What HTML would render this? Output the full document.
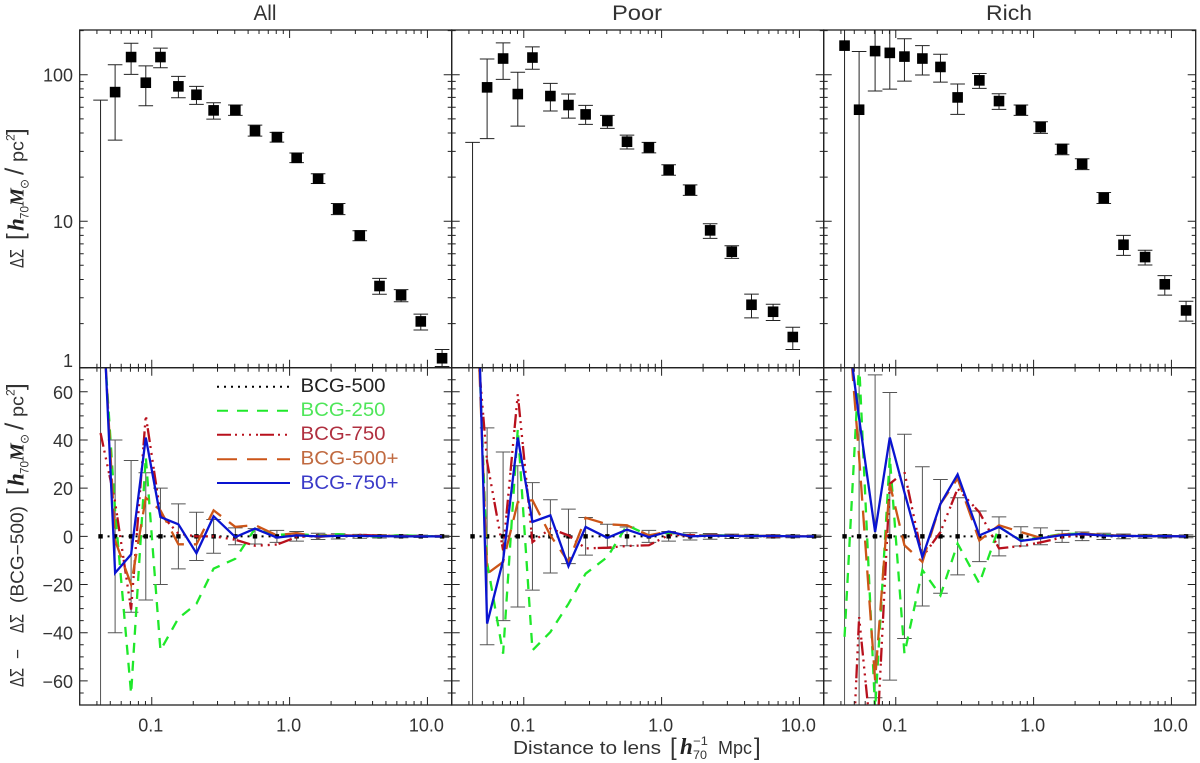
<!DOCTYPE html>
<html>
<head>
<meta charset="utf-8">
<title>Lensing profiles</title>
<style>
html,body{margin:0;padding:0;background:#fff;width:1200px;height:763px;overflow:hidden;}
svg{display:block;}
text{font-family:"Liberation Sans",sans-serif;fill:#333;}
.s{font-family:"Liberation Serif",serif;font-style:italic;font-weight:bold;fill:#222;}
</style>
</head>
<body>
<svg id="chart" xmlns="http://www.w3.org/2000/svg" width="1200" height="763" viewBox="0 0 1200 763">
  <defs id="defs"></defs>
  <g id="marks"></g>
  <g id="axes"></g>

  <text x="253.5" y="20" font-size="21" textLength="23">All</text>
  <text x="612" y="20" font-size="21" textLength="50">Poor</text>
  <text x="986" y="20" font-size="21" textLength="46">Rich</text>

  <g>
    <line x1="217" x2="290" y1="386.7" y2="386.7" stroke="#000" stroke-width="2" stroke-dasharray="2 5"/>
    <text x="300.5" y="392" font-size="19" textLength="85" style="fill:#222">BCG-500</text>
    <line x1="217" x2="290" y1="410.7" y2="410.7" stroke="#1fe82a" stroke-width="2" stroke-dasharray="11 9"/>
    <text x="300.5" y="416" font-size="19" textLength="85" style="fill:#4fe65a">BCG-250</text>
    <line x1="217" x2="290" y1="434.7" y2="434.7" stroke="#b8101c" stroke-width="2" stroke-dasharray="14 4 2 5 2 5 2 5 2 2"/>
    <text x="300.5" y="440" font-size="19" textLength="85" style="fill:#b03040">BCG-750</text>
    <line x1="217" x2="290" y1="459.3" y2="459.3" stroke="#cc5518" stroke-width="2" stroke-dasharray="20 10"/>
    <text x="300.5" y="464.5" font-size="19" textLength="98" style="fill:#c06a40">BCG-500+</text>
    <line x1="217" x2="290" y1="483" y2="483" stroke="#0a14d0" stroke-width="2"/>
    <text x="300.5" y="489" font-size="19" textLength="98" style="fill:#3a3ac8">BCG-750+</text>
  </g>

  <g>
    <text x="513" y="754" font-size="18" textLength="148">Distance to lens</text>
    <text x="670" y="755" font-size="24">[</text>
    <text class="s" x="680" y="754" font-size="23">h</text>
    <text x="693" y="745" font-size="12" textLength="15">−1</text>
    <text x="693" y="759" font-size="12" textLength="14">70</text>
    <text x="718" y="754" font-size="18" textLength="34">Mpc</text>
    <text x="754" y="755" font-size="24">]</text>
  </g>

  <g transform="translate(23.5,268) rotate(-90)">
    <text x="0" y="0" font-size="19" textLength="19">ΔΣ</text>
    <text x="28" y="0" font-size="24">[</text>
    <text class="s" x="37" y="0" font-size="23">h</text>
    <text x="49" y="5" font-size="12" textLength="13">70</text>
    <text class="s" x="62" y="0" font-size="20">M</text>
    <text x="79" y="5" font-size="12">⊙</text>
    <text x="93" y="0" font-size="26">/</text>
    <text x="106" y="0" font-size="18" textLength="21">pc</text>
    <text x="127" y="-9" font-size="12">2</text>
    <text x="133" y="0" font-size="24">]</text>
  </g>

  <g transform="translate(23.5,687) rotate(-90)">
    <text x="0" y="0" font-size="19" textLength="19">ΔΣ</text>
    <text x="28" y="0" font-size="18" textLength="10">−</text>
    <text x="54" y="0" font-size="19" textLength="19">ΔΣ</text>
    <text x="84" y="0" font-size="18" textLength="97">(BCG−500)</text>
    <text x="192" y="0" font-size="24">[</text>
    <text class="s" x="201" y="0" font-size="23">h</text>
    <text x="213" y="5" font-size="12" textLength="13">70</text>
    <text class="s" x="226" y="0" font-size="20">M</text>
    <text x="243" y="5" font-size="12">⊙</text>
    <text x="257" y="0" font-size="26">/</text>
    <text x="270" y="0" font-size="18" textLength="21">pc</text>
    <text x="291" y="-9" font-size="12">2</text>
    <text x="297" y="0" font-size="24">]</text>
  </g>
</svg>

<script>
// ---------- data ----------
const radii = [0.0425,0.0542,0.0708,0.0905,0.1156,0.156,0.211,0.281,0.404,0.561,0.809,1.125,1.61,2.25,3.23,4.49,6.44,8.95,12.77];
const panelNames = ['all','poor','rich'];

// Upper panels: delta sigma with asymmetric error limits
const allValue = [0.5,76.1,132,88.2,132,83.3,73,57.1,57.4,41.5,37.5,27.1,19.5,12.1,8.0,3.61,3.12,2.07,1.16];
const allUpper = [67.1,117,164,115,152,97.4,83.3,64.4,62.1,45.3,40.4,29.2,21.1,13.2,8.6,4.07,3.41,2.32,1.33];
const allLower = [0.01,35.8,100.5,61.4,111.6,69.7,62.7,49.8,52.8,38.1,34.7,25.1,18.1,11.1,7.36,3.17,2.82,1.81,1.02];

const poorValue = [0.5,82,129,73.8,131,71.5,62.1,53.6,48.3,34.9,31.9,22.4,16.3,8.66,6.19,2.69,2.41,1.62,0.5];
const poorUpper = [34.5,128,165,104,155,87.3,73.8,61.8,52.8,38.7,34.5,24.3,17.7,9.61,6.8,3.18,2.71,1.89,0.6];
const poorLower = [0.01,36.6,93,44.6,109,56.5,50.6,45.8,43,31.1,29.3,20.6,15,7.64,5.58,2.19,2.10,1.33,0.4];

const richValue = [158,57.7,145,141,133,129,113,70,91.5,66.1,57.4,43.9,31.1,24.6,14.4,6.91,5.69,3.71,2.46];
const richUpper = [300,144,300,300,176,158,138,86.4,102,74.2,62.1,47.8,33.6,26.7,15.7,8.0,6.33,4.25,2.84];
const richLower = [0.01,0.01,77.4,79.8,90.5,99.5,89.1,53.6,80.7,58,52.8,39.8,28.4,22.5,13.2,5.84,5.02,3.13,2.08];

// Lower panels: residuals relative to BCG-500
const allError = [72,40,31.5,26.4,20,13.5,10,7,3.5,3.2,2.5,2,1.3,1.1,0.8,0.7,0.6,0.5,0.4];
const allBcg250 = [104,10.5,-65.3,33,-47.3,-34,-28,-13.4,-9.3,3.2,0.6,1.0,0.3,0.9,0.2,-0.1,0.5,0.1,0];
const allBcg750 = [42.9,14.2,-30.4,50.2,9.4,1.1,0,0,-1.4,-3.9,-3.4,-0.3,0.3,0.2,0.6,0.3,0.1,0,0];
const allBcg500p = [111,-1.7,-20,16,10.8,-3.3,-3.3,10.8,3.9,4.7,0.4,1.4,-0.3,0.5,0.3,0.2,0.1,0,0.1];
const allBcg750p = [118,-15.2,-7.5,41,8,5,-7,8.3,-0.3,3.2,-0.5,0.4,0,0.2,0.2,0.1,0,0,0];

const poorError = [72,45,35,29.3,22.3,15.2,11.3,7.8,5,3.9,2.5,2,1.5,1.2,0.9,0.8,0.7,0.6,0.5];
const poorBcg250 = [145.6,-10.8,-48.7,44.7,-47.3,-39.7,-28,-15.5,-8.6,4.6,0.4,1.5,0.3,0.5,0.3,0.1,0.2,0,0];
const poorBcg750 = [103,31,-5.8,59,-2.4,3.2,0.4,-5,-4.7,-4,-3.7,0.5,0.5,0.3,0.3,0.1,0,0,0];
const poorBcg500p = [145,-15.5,-10.6,14.2,15,0.4,-10.6,7.7,5,4.6,0.4,2,-0.2,0.6,0.3,0.1,0.3,0,0];
const poorBcg750p = [181,-36.2,-10,41,6,8.7,-12.4,3.9,-0.6,2.8,-0.3,2,0,0.3,0.2,0.1,0.2,0,0];

const richError = [72,72,67,59.7,42.4,28.9,23.6,16,10.5,8.1,4,3.5,2.5,1.8,1.3,1,0.8,0.7,0.6];
const richBcg250 = [-41.7,72,-72,33,-48.7,-14,-24.5,-3,-19.6,3.9,-1.7,-0.5,1,1.1,0.6,0.2,0.2,0,0];
const richBcg750 = [-167,-33.5,-100,21.8,26.7,-8.6,1.8,19.8,10,-5,-4,-2.5,-0.5,0.8,0.5,0.2,0.1,0,0];
const richBcg500p = [110,33,-59.7,21.8,-3.7,-10.6,13.5,24,-1.7,4.6,1.8,-0.6,0.8,1.2,0.5,0.3,0.2,0.1,0];
const richBcg750p = [96,49,1.8,41,18.2,-8.6,13.5,25.7,0.4,3.9,-1.9,-0.8,0.5,1,0.3,0.2,0.1,0.1,0];

const xTickMajor = [0.1,1,10];
const xTickMajorLabels = ['0.1','1.0','10.0'];
const xTickMinor = [0.04,0.05,0.06,0.07,0.08,0.09,0.2,0.3,0.4,0.5,0.6,0.7,0.8,0.9,2,3,4,5,6,7,8,9];
const yTopTickMajor = [1,10,100];
const yTopTickMajorLabels = ['1','10','100'];
const yTopTickMinor = [2,3,4,5,6,7,8,9,20,30,40,50,60,70,80,90,200];
const yBottomTickMajor = [-60,-40,-20,0,20,40,60];
const yBottomTickMajorLabels = ['−60','−40','−20','0','20','40','60'];
const yBottomTickMinor = [-65,-55,-50,-45,-35,-30,-25,-15,-10,-5,5,10,15,25,30,35,45,50,55,65];

// ---------- layout & scales ----------
const NS = 'http://www.w3.org/2000/svg';
const plotLeft = 79.7, panelWidth = 372, topY = 30, midY = 367.7, bottomY = 705;
const xMin = 0.03, xMax = 15, yTopMax = 202, yBottomMax = 70;
function xScale(panel, r) {
  return plotLeft + panel * panelWidth + panelWidth * Math.log10(r / xMin) / Math.log10(xMax / xMin);
}
function yTopScale(v) {
  return midY - (midY - topY) * Math.log10(v) / Math.log10(yTopMax);
}
function yBottomScale(v) {
  return (midY + bottomY) / 2 - v * (bottomY - midY) / (2 * yBottomMax);
}
function el(tag, parent, attrs) {
  const e = document.createElementNS(NS, tag);
  for (const k in attrs) e.setAttribute(k, attrs[k]);
  parent.appendChild(e);
  return e;
}
// Vertices for a series; portions below the frame are flattened just under the clip edge.
function clippedPoints(panel, series) {
  const limit = bottomY + 6, out = [];
  let px = null, py = null;
  series.forEach(function (v, i) {
    const x = xScale(panel, radii[i]), y = yBottomScale(v);
    if (px !== null && (py > limit) !== (y > limit)) {
      const t = (limit - py) / (y - py);
      out.push((px + t * (x - px)).toFixed(2) + ',' + limit);
    }
    out.push(x.toFixed(2) + ',' + Math.min(y, limit).toFixed(2));
    px = x; py = y;
  });
  return out.join(' ');
}

const marks = document.getElementById('marks');
const axes = document.getElementById('axes');
const defs = document.getElementById('defs');

const upperSets = [[allValue,allUpper,allLower],[poorValue,poorUpper,poorLower],[richValue,richUpper,richLower]];
const lowerErrors = [allError,poorError,richError];
const lowerSets = [
  [allBcg250,allBcg750,allBcg500p,allBcg750p],
  [poorBcg250,poorBcg750,poorBcg500p,poorBcg750p],
  [richBcg250,richBcg750,richBcg500p,richBcg750p]
];
const seriesNames = ['bcg-250','bcg-750','bcg-500-plus','bcg-750-plus'];
const seriesColors = ['#1fe82a','#b8101c','#cc5518','#0a14d0'];
const seriesDashes = ['10 8','14 4 2 5 2 5 2 5 2 2','20 10',''];

panelNames.forEach(function (name, p) {
  const left = plotLeft + p * panelWidth;
  const cu = el('clipPath', defs, {id: 'cu' + p});
  el('rect', cu, {x: left, y: topY, width: panelWidth, height: midY - topY});
  const cl = el('clipPath', defs, {id: 'cl' + p});
  el('rect', cl, {x: left, y: midY, width: panelWidth, height: bottomY - midY});

  // upper panel
  const gu = el('g', marks, {'clip-path': 'url(#cu' + p + ')'});
  
  
  const vals = upperSets[p][0], ups = upperSets[p][1], los = upperSets[p][2];
  radii.forEach(function (r, i) {
    const x = xScale(p, r);
    const bar = el('path', gu, {
      d: 'M' + x + ' ' + yTopScale(los[i]) + 'V' + yTopScale(ups[i]) +
         'M' + (x - 7.3) + ' ' + yTopScale(ups[i]) + 'h14.6' +
         'M' + (x - 7.3) + ' ' + yTopScale(los[i]) + 'h14.6',
      stroke: '#222', 'stroke-width': 1, fill: 'none'
    });
    
    
    const pt = el('rect', gu, {x: x - 5.3, y: yTopScale(vals[i]) - 5.3, width: 10.6, height: 10.6, fill: '#000'});
    
    
  });

  // lower panel
  const gl = el('g', marks, {'clip-path': 'url(#cl' + p + ')'});
  
  
  radii.forEach(function (r, i) {
    const x = xScale(p, r), e = lowerErrors[p][i];
    const bar = el('path', gl, {
      d: 'M' + x + ' ' + yBottomScale(-e) + 'V' + yBottomScale(e) +
         'M' + (x - 7.3) + ' ' + yBottomScale(e) + 'h14.6' +
         'M' + (x - 7.3) + ' ' + yBottomScale(-e) + 'h14.6',
      stroke: '#555', 'stroke-width': 1, fill: 'none'
    });
    
    
  });
  const zero = el('line', gl, {
    x1: xScale(p, radii[0]), x2: xScale(p, radii[radii.length - 1]),
    y1: yBottomScale(0), y2: yBottomScale(0),
    stroke: '#000', 'stroke-width': 2, 'stroke-dasharray': '2 5'
  });
  
  
  radii.forEach(function (r) {
    const sq = el('rect', gl, {x: xScale(p, r) - 2.2, y: yBottomScale(0) - 2.2, width: 4.4, height: 4.4, fill: '#000'});
    
    
  });
  lowerSets[p].forEach(function (series, s) {
    const line = el('polyline', gl, {
      points: clippedPoints(p, series), fill: 'none', stroke: seriesColors[s], 'stroke-width': 2.3,
      'stroke-dasharray': seriesDashes[s] || 'none', 'stroke-linejoin': 'miter'
    });
    
    
  });

  // x ticks on all horizontal edges
  const tx = el('g', axes, {stroke: '#222', 'stroke-width': 1, fill: 'none'});
  
  
  function xTick(r, len) {
    const x = xScale(p, r);
    el('path', tx, {d:
      'M' + x + ' ' + topY + 'v' + len +
      'M' + x + ' ' + midY + 'v' + (-len) +
      'M' + x + ' ' + midY + 'v' + len +
      'M' + x + ' ' + bottomY + 'v' + (-len)});
  }
  xTickMajor.forEach(function (r) { xTick(r, 8); });
  xTickMinor.forEach(function (r) { xTick(r, 4); });

  xTickMajor.forEach(function (r, i) {
    const t = el('text', axes, {x: xScale(p, r) - 1, y: 731.5, 'font-size': 18, 'text-anchor': 'middle'});
    t.textContent = xTickMajorLabels[i];
    
    
  });

  // y ticks on both sides
  const ty = el('g', axes, {stroke: '#222', 'stroke-width': 1, fill: 'none'});
  
  
  function yTick(y, len) {
    el('path', ty, {d: 'M' + left + ' ' + y + 'h' + len + 'M' + (left + panelWidth) + ' ' + y + 'h' + (-len)});
  }
  yTopTickMajor.forEach(function (v) { yTick(yTopScale(v), 8); });
  yTopTickMinor.forEach(function (v) { yTick(yTopScale(v), 4); });
  yBottomTickMajor.forEach(function (v) { yTick(yBottomScale(v), 8); });
  yBottomTickMinor.forEach(function (v) { yTick(yBottomScale(v), 4); });

  // frames
  const f1 = el('rect', axes, {x: left, y: topY, width: panelWidth, height: midY - topY, fill: 'none', stroke: '#222', 'stroke-width': 1.3});
  
  
  const f2 = el('rect', axes, {x: left, y: midY, width: panelWidth, height: bottomY - midY, fill: 'none', stroke: '#222', 'stroke-width': 1.3});
  
  
});

yTopTickMajor.forEach(function (v, i) {
  // the "1" label sits just above the shared axis line, clear of the lower panel
  const t = el('text', axes, {x: 73, y: Math.min(yTopScale(v) + 7, 367), 'font-size': 18, 'text-anchor': 'end'});
  t.textContent = yTopTickMajorLabels[i];
  
  
});
yBottomTickMajor.forEach(function (v, i) {
  const t = el('text', axes, {x: 73, y: yBottomScale(v) + 7, 'font-size': 18, 'text-anchor': 'end'});
  t.textContent = yBottomTickMajorLabels[i];
  
  
});

// stretch glyphs to the measured widths; the reference font is wider than Liberation
document.querySelectorAll('text').forEach(function (t) {
  if (t.hasAttribute('textLength')) t.setAttribute('lengthAdjust', 'spacingAndGlyphs');
});
</script>
</body>
</html>
